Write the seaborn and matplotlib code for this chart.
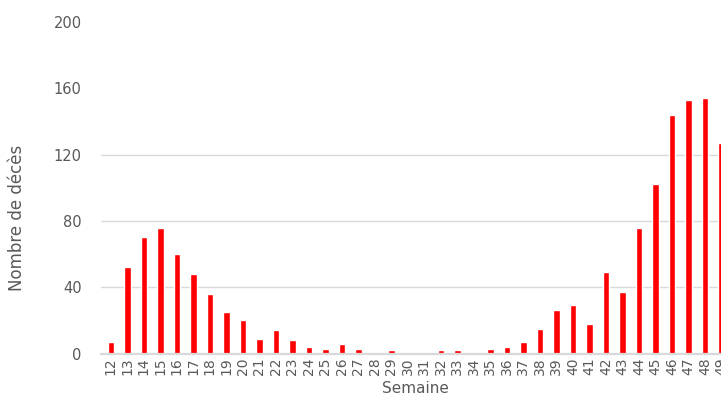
import seaborn as sns
import pandas as pd
import matplotlib.pyplot as plt

# weekly deaths
semaines = list(range(12, 50))
deces = [7, 52, 70, 76, 60, 48, 36, 25, 20, 9, 14, 8, 4, 3, 6, 3,
         1, 2, 0, 1, 2, 2, 1, 3, 4, 7, 15, 26, 29, 18, 49, 37,
         76, 102, 144, 153, 154, 127]
yticks = [0, 40, 80, 120, 160, 200]

df = pd.DataFrame({"Semaine": [str(s) for s in semaines], "Deces": deces})

sns.set_style("white")
plt.rcParams['font.family'] = ['DejaVu Sans']
grey = '#595959'

fig = plt.figure(figsize=(7.21, 4.12), dpi=100)
ax = fig.add_axes([101 / 721, (412 - 353.5) / 412, 628.6 / 721, 331.5 / 412])
sns.barplot(x="Semaine", y="Deces", data=df, color='#ff0000', width=0.4,
            saturation=1, ax=ax)

ax.set_xlim(-0.6, 37.5)
ax.set_ylim(0, 200)
ax.set_yticks(yticks)
ax.yaxis.grid(True, color='#d9d9d9', lw=1)
for i, gl in enumerate(ax.get_ygridlines()):
    if yticks[i] in (0, 160, 200):
        gl.set_visible(False)
ax.set_axisbelow(True)
for s in ['top', 'right', 'left']:
    ax.spines[s].set_visible(False)
ax.spines['bottom'].set_color('#d9d9d9')
ax.spines['bottom'].set_linewidth(1.6)

ax.tick_params(axis='both', length=0, colors=grey)
ax.tick_params(axis='y', labelsize=10.5, pad=14)
ax.tick_params(axis='x', labelsize=10, rotation=90, pad=3)
ax.set_xlabel("Semaine", fontsize=11, color=grey, labelpad=4)
ax.set_ylabel("Nombre de décès", fontsize=12, color=grey)
ax.yaxis.set_label_coords(-0.12, 0.41)

fig.savefig('out.png', dpi=100)
